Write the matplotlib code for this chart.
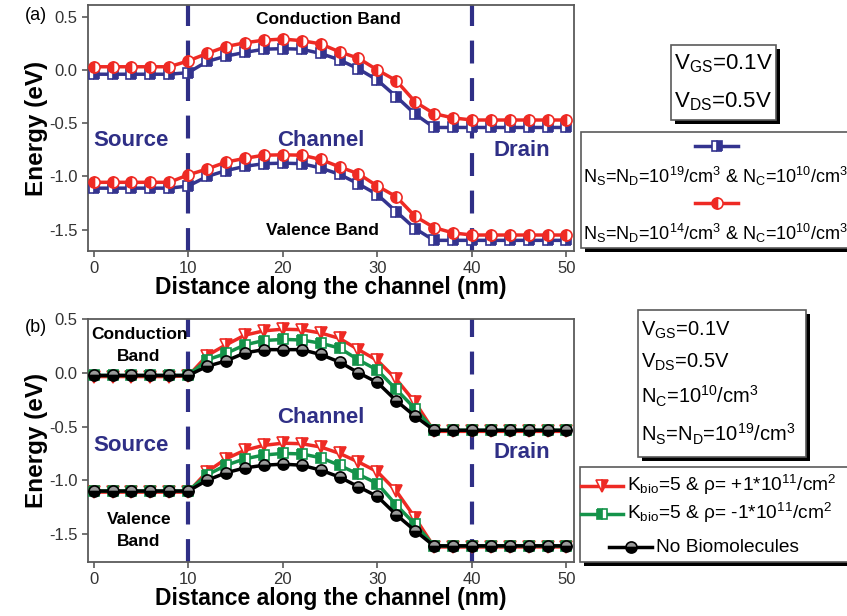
import matplotlib
matplotlib.use("Agg")
import matplotlib.pyplot as plt
from matplotlib.patches import Rectangle
from matplotlib.lines import Line2D

plt.rcParams['font.family'] = ['Liberation Sans', 'DejaVu Sans']
plt.rcParams['mathtext.fontset'] = 'custom'
plt.rcParams['mathtext.rm'] = 'Liberation Sans'
plt.rcParams['mathtext.it'] = 'Liberation Sans:italic'
plt.rcParams['mathtext.bf'] = 'Liberation Sans:bold'
plt.rcParams['mathtext.default'] = 'regular'

# positions along the channel (nm)
x = [0, 2, 4, 6, 8, 10, 12, 14, 16, 18, 20, 22, 24, 26, 28, 30, 32, 34, 36, 38, 40, 42, 44, 46, 48, 50]

# panel (a): doping comparison
cb_n19 = [-0.04, -0.04, -0.04, -0.04, -0.04, -0.025, 0.08, 0.13, 0.165, 0.195, 0.20, 0.195, 0.155,
          0.095, 0.01, -0.095, -0.25, -0.415, -0.54, -0.54, -0.54, -0.54, -0.54, -0.54, -0.54, -0.54]
cb_n14 = [0.03, 0.03, 0.03, 0.03, 0.03, 0.085, 0.155, 0.22, 0.255, 0.28, 0.29, 0.275, 0.245,
          0.17, 0.11, 0.0, -0.10, -0.30, -0.41, -0.45, -0.47, -0.47, -0.47, -0.47, -0.47, -0.47]
vb_n19 = [-1.11, -1.11, -1.11, -1.11, -1.11, -1.09, -1.0, -0.945, -0.905, -0.88, -0.875, -0.88, -0.92,
          -0.98, -1.07, -1.17, -1.33, -1.49, -1.60, -1.60, -1.60, -1.60, -1.60, -1.60, -1.60, -1.60]
vb_n14 = [-1.055, -1.055, -1.055, -1.055, -1.055, -0.985, -0.93, -0.865, -0.83, -0.80, -0.797, -0.80, -0.84,
          -0.91, -0.975, -1.09, -1.19, -1.375, -1.48, -1.53, -1.55, -1.55, -1.55, -1.55, -1.55, -1.55]

# panel (b): biomolecule charge comparison
cb_none = [-0.025, -0.025, -0.025, -0.025, -0.025, -0.025, 0.06, 0.11, 0.185, 0.215, 0.215, 0.215, 0.17,
           0.10, 0.0, -0.09, -0.26, -0.405, -0.535, -0.535, -0.535, -0.535, -0.535, -0.535, -0.535, -0.535]
cb_neg = [-0.025, -0.025, -0.025, -0.025, -0.025, -0.025, 0.12, 0.18, 0.26, 0.30, 0.31, 0.305, 0.275,
          0.23, 0.12, 0.025, -0.155, -0.335, -0.535, -0.535, -0.535, -0.535, -0.535, -0.535, -0.535, -0.535]
cb_pos = [-0.035, -0.035, -0.035, -0.035, -0.035, -0.03, 0.16, 0.26, 0.35, 0.39, 0.405, 0.40, 0.37,
          0.32, 0.215, 0.115, -0.06, -0.275, -0.545, -0.545, -0.545, -0.545, -0.545, -0.545, -0.545, -0.545]
vb_none = [-1.10, -1.10, -1.10, -1.10, -1.10, -1.10, -1.0, -0.93, -0.885, -0.86, -0.85, -0.86, -0.905,
           -0.97, -1.06, -1.15, -1.32, -1.47, -1.61, -1.61, -1.61, -1.61, -1.61, -1.61, -1.61, -1.61]
vb_neg = [-1.10, -1.10, -1.10, -1.10, -1.10, -1.10, -0.95, -0.86, -0.80, -0.765, -0.75, -0.755, -0.79,
          -0.86, -0.945, -1.03, -1.23, -1.41, -1.61, -1.61, -1.61, -1.61, -1.61, -1.61, -1.61, -1.61]
vb_pos = [-1.11, -1.11, -1.11, -1.11, -1.11, -1.11, -0.92, -0.80, -0.72, -0.675, -0.655, -0.66, -0.69,
          -0.75, -0.83, -0.92, -1.10, -1.35, -1.62, -1.62, -1.62, -1.62, -1.62, -1.62, -1.62, -1.62]

W, H = 847, 616
NAVY = '#2f2f86'
BLUE = '#34348f'
RED = '#ee2a24'
GREEN = '#14934a'
SPINE = '#5a5a5a'

fig = plt.figure(figsize=(W / 100, H / 100), dpi=100)


def fx(px):
    return px / W


def fy(py):
    return 1 - py / H


def style_axes(ax, ylim, yticks):
    ax.set_xlim(-0.6, 50.8)
    ax.set_ylim(*ylim)
    ax.set_xticks([0, 10, 20, 30, 40, 50])
    ax.set_yticks(yticks)
    ax.set_yticklabels([f"{v:.1f}" for v in yticks])
    for s in ax.spines.values():
        s.set_color(SPINE)
        s.set_linewidth(1.3)
    ax.tick_params(direction='out', length=4, width=1.2, color=SPINE,
                   labelsize=12, labelcolor='#333333')
    ax.set_xlabel("Distance along the channel (nm)", fontsize=16.5, fontweight='bold', labelpad=0)
    ax.set_ylabel("Energy (eV)", fontsize=17.5, fontweight='bold', labelpad=1)
    for xv in (10, 40):
        ax.axvline(xv, color=NAVY, lw=3, dashes=(5.5, 3.5), zorder=1)


def shadow_box(x0, y0, x1, y1, off=4):
    fig.patches.append(Rectangle((fx(x0 + off), fy(y1 + off)), fx(x1) - fx(x0), fy(y0) - fy(y1),
                                 transform=fig.transFigure, facecolor='black', edgecolor='none', zorder=1))
    fig.patches.append(Rectangle((fx(x0), fy(y1)), fx(x1) - fx(x0), fy(y0) - fy(y1),
                                 transform=fig.transFigure, facecolor='white', edgecolor=SPINE,
                                 lw=1.2, zorder=2))


def sample(x0, x1, y, color, **mk):
    fig.lines.append(Line2D([fx(x0), fx(x1)], [fy(y), fy(y)], transform=fig.transFigure,
                            color=color, lw=2.5, zorder=3))
    fig.lines.append(Line2D([fx((x0 + x1) / 2)], [fy(y)], transform=fig.transFigure,
                            color=color, lw=0, zorder=4, **mk))


blue_mk = dict(marker='s', markersize=7, markeredgecolor=BLUE, markerfacecolor=BLUE,
               fillstyle='right', markerfacecoloralt='white', markeredgewidth=1.2)
red_mk = dict(marker='o', markersize=8, markeredgecolor=RED, markerfacecolor=RED,
              fillstyle='left', markerfacecoloralt='white', markeredgewidth=1.2)
tri_mk = dict(marker='v', markersize=8, markeredgecolor=RED, markerfacecolor=RED,
              fillstyle='right', markerfacecoloralt='white', markeredgewidth=1.2)
grn_mk = dict(marker='s', markersize=7, markeredgecolor=GREEN, markerfacecolor=GREEN,
              fillstyle='left', markerfacecoloralt='white', markeredgewidth=1.2)
blk_mk = dict(marker='o', markersize=8, markeredgecolor='black', markerfacecolor='black',
              fillstyle='bottom', markerfacecoloralt='#9a9a9a', markeredgewidth=1.2)

# ---------------- panel (a) ----------------
ax1 = fig.add_axes([fx(88), fy(251), fx(574) - fx(88), fy(5) - fy(251)])
style_axes(ax1, (-1.70, 0.61), [0.5, 0.0, -0.5, -1.0, -1.5])
for cb, vb, c, mk in ((cb_n19, vb_n19, BLUE, blue_mk), (cb_n14, vb_n14, RED, red_mk)):
    ax1.plot(x, cb, color=c, lw=2.5, zorder=3, **mk)
    ax1.plot(x, vb, color=c, lw=2.5, zorder=3, **mk)

ax1.text(24.8, 0.47, "Conduction Band", fontsize=12.5, fontweight='bold', ha='center', va='center')
ax1.text(24.2, -1.51, "Valence Band", fontsize=12.5, fontweight='bold', ha='center', va='center')
ax1.text(3.9, -0.66, "Source", fontsize=16, fontweight='bold', color=NAVY, ha='center', va='center')
ax1.text(24.0, -0.66, "Channel", fontsize=16, fontweight='bold', color=NAVY, ha='center', va='center')
ax1.text(45.3, -0.76, "Drain", fontsize=16, fontweight='bold', color=NAVY, ha='center', va='center')
fig.text(fx(36), fy(15), "(a)", fontsize=13, ha='center', va='center')

shadow_box(671, 45, 776, 120)
fig.text(fx(723), fy(64), r"V$_{\rm GS}$=0.1V", fontsize=16, ha='center', va='center', zorder=5)
fig.text(fx(723), fy(102), r"V$_{\rm DS}$=0.5V", fontsize=16, ha='center', va='center', zorder=5)

shadow_box(581, 132, 870, 248)
sample(695, 738, 146, BLUE, **blue_mk)
sample(695, 738, 203, RED, **red_mk)
fig.text(fx(583), fy(176), r"N$_{\rm S}$=N$_{\rm D}$=10$^{19}$/cm$^{3}$ & N$_{\rm C}$=10$^{10}$/cm$^{3}$",
         fontsize=13, ha='left', va='center', zorder=5)
fig.text(fx(583), fy(233), r"N$_{\rm S}$=N$_{\rm D}$=10$^{14}$/cm$^{3}$ & N$_{\rm C}$=10$^{10}$/cm$^{3}$",
         fontsize=13, ha='left', va='center', zorder=5)

# ---------------- panel (b) ----------------
ax2 = fig.add_axes([fx(88), fy(562), fx(574) - fx(88), fy(319) - fy(562)])
style_axes(ax2, (-1.76, 0.5), [0.5, 0.0, -0.5, -1.0, -1.5])
for cb, vb, c, mk in ((cb_pos, vb_pos, RED, tri_mk), (cb_neg, vb_neg, GREEN, grn_mk),
                      (cb_none, vb_none, 'black', blk_mk)):
    ax2.plot(x, cb, color=c, lw=2.5, zorder=3, **mk)
    ax2.plot(x, vb, color=c, lw=2.5, zorder=3, **mk)

ax2.text(4.8, 0.25, "Conduction\nBand", fontsize=12.5, fontweight='bold', ha='center', va='center',
         linespacing=1.6)
ax2.text(4.8, -1.47, "Valence\nBand", fontsize=12.5, fontweight='bold', ha='center', va='center',
         linespacing=1.6)
ax2.text(3.9, -0.68, "Source", fontsize=16, fontweight='bold', color=NAVY, ha='center', va='center')
ax2.text(24.0, -0.42, "Channel", fontsize=16, fontweight='bold', color=NAVY, ha='center', va='center')
ax2.text(45.3, -0.74, "Drain", fontsize=16, fontweight='bold', color=NAVY, ha='center', va='center')
fig.text(fx(36), fy(328), "(b)", fontsize=13, ha='center', va='center')

shadow_box(638, 310, 806, 457)
for py, s in ((330, r"V$_{\rm GS}$=0.1V"), (362, r"V$_{\rm DS}$=0.5V"),
              (396, r"N$_{\rm C}$=10$^{10}$/cm$^{3}$"), (434, r"N$_{\rm S}$=N$_{\rm D}$=10$^{19}$/cm$^{3}$")):
    fig.text(fx(641), fy(py), s, fontsize=14.5, ha='left', va='center', zorder=5)

shadow_box(580, 467, 870, 562)
sample(581, 623, 486, RED, **tri_mk)
sample(581, 623, 514, GREEN, **grn_mk)
sample(609, 652, 547, 'black', **blk_mk)
fig.text(fx(627), fy(485), "K$_{\\rm bio}$=5 & ρ= +1*10$^{11}$/cm$^{2}$", fontsize=13.8,
         ha='left', va='center', zorder=5)
fig.text(fx(627), fy(513), "K$_{\\rm bio}$=5 & ρ= -1*10$^{11}$/cm$^{2}$", fontsize=13.8,
         ha='left', va='center', zorder=5)
fig.text(fx(656), fy(547), "No Biomolecules", fontsize=13.8, ha='left', va='center', zorder=5)

fig.savefig("out.png", dpi=100)
